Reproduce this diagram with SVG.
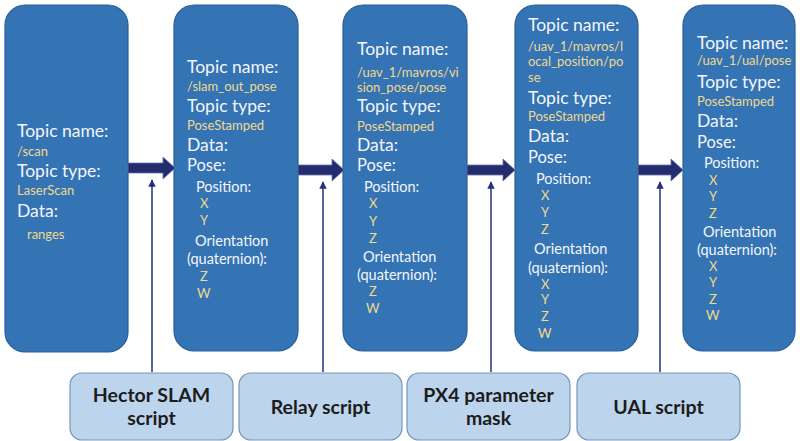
<svg xmlns="http://www.w3.org/2000/svg" width="800" height="441" viewBox="0 0 800 441">
  <style>
    .topic { fill: #3473b4; stroke: #2a5e98; stroke-width: 1.2; }
    .h { font-family: Lato, "Open Sans", "Liberation Sans", sans-serif; font-size: 17.5px; fill: #f4f6fa; }
    .p { font-family: Lato, "Open Sans", "Liberation Sans", sans-serif; font-size: 16.5px; fill: #f4f6fa; }
    .s { font-family: Lato, "Open Sans", "Liberation Sans", sans-serif; font-size: 14.5px; fill: #f4f6fa; }
    .v { font-family: Lato, "Open Sans", "Liberation Sans", sans-serif; font-size: 13px; fill: #f0d98e; }
    .flow { fill: #232c6c; stroke: #6574b0; stroke-width: 0.8; }
    .link { stroke: #27307a; stroke-width: 1.5; fill: none; }
    .tool { fill: #bdd5ec; stroke: #7595bf; stroke-width: 1.2; }
    .tl { font-family: Lato, "Open Sans", "Liberation Sans", sans-serif; font-weight: bold; font-size: 19.5px; fill: #1c1c1c; text-anchor: middle; }
  </style>
  <defs>
    <marker id="tip" viewBox="0 0 10 10" refX="9" refY="5" markerWidth="5" markerHeight="5" orient="auto">
      <path d="M0,0 L10,5 L0,10 Z" fill="#27307a"/>
    </marker>
  </defs>

  <!-- topic: /scan -->
  <g id="scan">
    <rect class="topic" x="5" y="5" width="123" height="347" rx="20"/>
    <text class="h" x="17" y="137">Topic name:</text>
    <text class="v" x="17" y="156">/scan</text>
    <text class="h" x="17" y="177">Topic type:</text>
    <text class="v" x="17" y="195">LaserScan</text>
    <text class="h" x="17" y="217">Data:</text>
    <text class="v" x="27" y="239">ranges</text>
  </g>

  <!-- topic: /slam_out_pose -->
  <g id="slam_out_pose">
    <rect class="topic" x="174" y="5" width="124" height="346" rx="20"/>
    <text class="h" x="187" y="73">Topic name:</text>
    <text class="v" x="187" y="91">/slam_out_pose</text>
    <text class="h" x="187" y="112">Topic type:</text>
    <text class="v" x="187" y="130">PoseStamped</text>
    <text class="h" x="187" y="151">Data:</text>
    <text class="p" x="187" y="171">Pose:</text>
    <text class="s" x="196" y="192">Position:</text>
    <text class="v" x="200" y="208">X</text>
    <text class="v" x="200" y="225">Y</text>
    <text class="s" x="195" y="246">Orientation</text>
    <text class="s" x="187" y="264">(quaternion):</text>
    <text class="v" x="200" y="281">Z</text>
    <text class="v" x="197" y="298">W</text>
  </g>

  <!-- topic: /uav_1/mavros/vision_pose/pose -->
  <g id="vision_pose">
    <rect class="topic" x="343" y="5" width="124" height="346" rx="20"/>
    <text class="h" x="357" y="55">Topic name:</text>
    <text class="v" x="357" y="77">/uav_1/mavros/vi</text>
    <text class="v" x="357" y="92">sion_pose/pose</text>
    <text class="h" x="357" y="112">Topic type:</text>
    <text class="v" x="357" y="131">PoseStamped</text>
    <text class="h" x="357" y="151">Data:</text>
    <text class="p" x="357" y="171">Pose:</text>
    <text class="s" x="364" y="192">Position:</text>
    <text class="v" x="369" y="208">X</text>
    <text class="v" x="369" y="226">Y</text>
    <text class="v" x="369" y="243">Z</text>
    <text class="s" x="363" y="262">Orientation</text>
    <text class="s" x="357" y="280">(quaternion):</text>
    <text class="v" x="369" y="296">Z</text>
    <text class="v" x="366" y="313">W</text>
  </g>

  <!-- topic: /uav_1/mavros/local_position/pose -->
  <g id="local_position">
    <rect class="topic" x="515" y="5" width="123" height="346" rx="20"/>
    <text class="h" x="528" y="31">Topic name:</text>
    <text class="v" x="528" y="51">/uav_1/mavros/l</text>
    <text class="v" x="528" y="66">ocal_position/po</text>
    <text class="v" x="528" y="82">se</text>
    <text class="h" x="528" y="104">Topic type:</text>
    <text class="v" x="528" y="121">PoseStamped</text>
    <text class="h" x="528" y="142">Data:</text>
    <text class="p" x="528" y="163">Pose:</text>
    <text class="s" x="536" y="184">Position:</text>
    <text class="v" x="541" y="200">X</text>
    <text class="v" x="541" y="217">Y</text>
    <text class="v" x="541" y="234">Z</text>
    <text class="s" x="534" y="254">Orientation</text>
    <text class="s" x="528" y="273">(quaternion):</text>
    <text class="v" x="541" y="289">X</text>
    <text class="v" x="541" y="304">Y</text>
    <text class="v" x="541" y="321">Z</text>
    <text class="v" x="538" y="338">W</text>
  </g>

  <!-- topic: /uav_1/ual/pose -->
  <g id="ual_pose">
    <rect class="topic" x="683" y="5" width="112" height="346" rx="20"/>
    <text class="h" x="697" y="49">Topic name:</text>
    <text class="v" x="697" y="65">/uav_1/ual/pose</text>
    <text class="h" x="697" y="88">Topic type:</text>
    <text class="v" x="697" y="106">PoseStamped</text>
    <text class="h" x="697" y="127">Data:</text>
    <text class="p" x="697" y="148">Pose:</text>
    <text class="s" x="704" y="168">Position:</text>
    <text class="v" x="709" y="185">X</text>
    <text class="v" x="709" y="201">Y</text>
    <text class="v" x="709" y="218">Z</text>
    <text class="s" x="703" y="237">Orientation</text>
    <text class="s" x="697" y="255">(quaternion):</text>
    <text class="v" x="709" y="271">X</text>
    <text class="v" x="709" y="287">Y</text>
    <text class="v" x="709" y="304">Z</text>
    <text class="v" x="706" y="320">W</text>
  </g>

  <!-- processing nodes -->
  <g id="hector_slam">
    <rect class="tool" x="70" y="373" width="163" height="67" rx="12"/>
    <text class="tl" x="151.5" y="402">Hector SLAM</text>
    <text class="tl" x="151.5" y="425">script</text>
  </g>
  <g id="relay">
    <rect class="tool" x="239" y="373" width="163" height="67" rx="12"/>
    <text class="tl" x="320.5" y="414">Relay script</text>
  </g>
  <g id="px4_mask">
    <rect class="tool" x="407" y="373" width="163" height="67" rx="12"/>
    <text class="tl" x="488.5" y="402">PX4 parameter</text>
    <text class="tl" x="488.5" y="425">mask</text>
  </g>
  <g id="ual">
    <rect class="tool" x="577" y="373" width="163" height="67" rx="12"/>
    <text class="tl" x="658.5" y="414">UAL script</text>
  </g>

  <!-- connectors: data flow between topics, and the node acting on each flow -->
  <g id="connectors">
    <path class="flow" d="M128,163 H163 V157 L175,168 L163,179 V173 H128 Z"/>
    <path class="flow" d="M298,165 H332 V159 L344,170 L332,181 V175 H298 Z"/>
    <path class="flow" d="M467,165 H503 V159 L515,170 L503,181 V175 H467 Z"/>
    <path class="flow" d="M638,165 H671 V159 L683,170 L671,181 V175 H638 Z"/>
    <line class="link" x1="152" y1="372" x2="152" y2="180" marker-end="url(#tip)"/>
    <line class="link" x1="323" y1="372" x2="323" y2="182" marker-end="url(#tip)"/>
    <line class="link" x1="491" y1="372" x2="491" y2="182" marker-end="url(#tip)"/>
    <line class="link" x1="660" y1="372" x2="660" y2="182" marker-end="url(#tip)"/>
  </g>
</svg>
